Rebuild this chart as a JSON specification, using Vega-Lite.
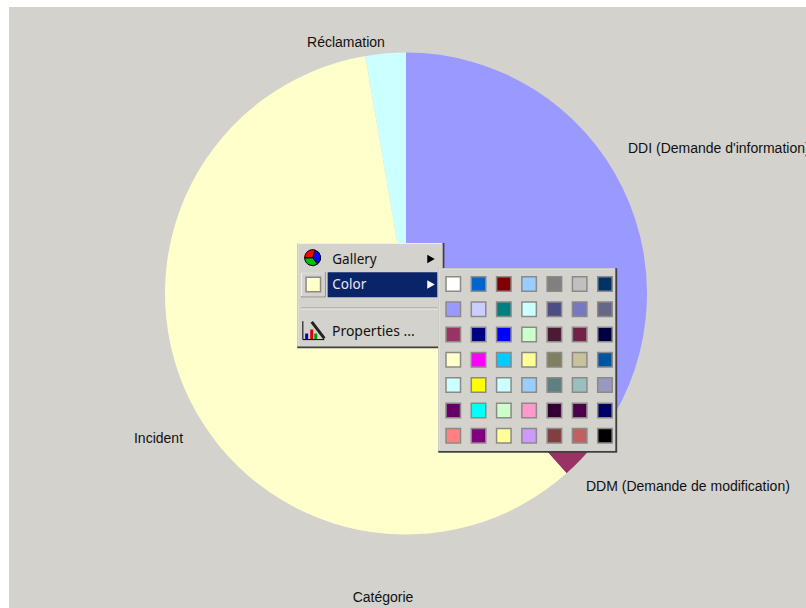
{"$schema":"https://vega.github.io/schema/vega-lite/v6.json","width":797,"height":601,"autosize":"none","padding":{"left":9,"top":7,"right":0,"bottom":0},"background":"#FFFFFF","view":{"fill":"#D3D2CD","stroke":null},
"config":{"axis":{"grid":false},"text":{"font":"Liberation Sans"}},
"datasets":{
"slices":[{"category":"DDI (Demande d'information)","share":35.6,"rank":1},{"category":"DDM (Demande de modification)","share":2.8,"rank":2},{"category":"Incident","share":58.9,"rank":3},{"category":"Réclamation","share":2.7,"rank":4}],
"parts":[{"part":"menu"}],
"gallery":[{"wedge":"blue","share":35,"rank":1},{"wedge":"green","share":35,"rank":2},{"wedge":"red","share":30,"rank":3}],
"swatches":[
{"col":1,"row":1,"swatch":1},{"col":2,"row":1,"swatch":2},{"col":3,"row":1,"swatch":3},{"col":4,"row":1,"swatch":4},{"col":5,"row":1,"swatch":5},{"col":6,"row":1,"swatch":6},{"col":7,"row":1,"swatch":7},
{"col":1,"row":2,"swatch":8},{"col":2,"row":2,"swatch":9},{"col":3,"row":2,"swatch":10},{"col":4,"row":2,"swatch":11},{"col":5,"row":2,"swatch":12},{"col":6,"row":2,"swatch":13},{"col":7,"row":2,"swatch":14},
{"col":1,"row":3,"swatch":15},{"col":2,"row":3,"swatch":16},{"col":3,"row":3,"swatch":17},{"col":4,"row":3,"swatch":18},{"col":5,"row":3,"swatch":19},{"col":6,"row":3,"swatch":20},{"col":7,"row":3,"swatch":21},
{"col":1,"row":4,"swatch":22},{"col":2,"row":4,"swatch":23},{"col":3,"row":4,"swatch":24},{"col":4,"row":4,"swatch":25},{"col":5,"row":4,"swatch":26},{"col":6,"row":4,"swatch":27},{"col":7,"row":4,"swatch":28},
{"col":1,"row":5,"swatch":29},{"col":2,"row":5,"swatch":30},{"col":3,"row":5,"swatch":31},{"col":4,"row":5,"swatch":32},{"col":5,"row":5,"swatch":33},{"col":6,"row":5,"swatch":34},{"col":7,"row":5,"swatch":35},
{"col":1,"row":6,"swatch":36},{"col":2,"row":6,"swatch":37},{"col":3,"row":6,"swatch":38},{"col":4,"row":6,"swatch":39},{"col":5,"row":6,"swatch":40},{"col":6,"row":6,"swatch":41},{"col":7,"row":6,"swatch":42},
{"col":1,"row":7,"swatch":43},{"col":2,"row":7,"swatch":44},{"col":3,"row":7,"swatch":45},{"col":4,"row":7,"swatch":46},{"col":5,"row":7,"swatch":47},{"col":6,"row":7,"swatch":48},{"col":7,"row":7,"swatch":49}]
},
"resolve":{"scale":{"color":"independent","theta":"independent"}},
"layer":[
{"data":{"name":"slices"},"mark":{"type":"arc","radius":241},"encoding":{
"x":{"datum":-0.87,"type":"quantitative","scale":{"domain":[-16.574,14.953],"range":[0,797],"nice":false,"zero":false},"axis":null},
"y":{"datum":1.377,"type":"quantitative","scale":{"domain":[-9.957,13.817],"range":[0,601],"nice":false,"zero":false},"axis":null},
"theta":{"field":"share","type":"quantitative","stack":true,"scale":{"range":[0,6.28319]}},
"order":{"field":"rank","type":"ordinal"},
"color":{"field":"category","type":"nominal","legend":null,"scale":{"domain":["DDI (Demande d'information)","DDM (Demande de modification)","Incident","Réclamation"],"range":["#9999FF","#993366","#FFFFCC","#CCFFFF"]}}}},
{"data":{"name":"slices"},"transform":[{"filter":"datum.rank==1"}],"mark":{"type":"text","align":"left","baseline":"middle","fontSize":14,"color":"#111111"},"encoding":{"x":{"datum":7.911,"axis":null},"y":{"datum":-4.339,"axis":null},"text":{"field":"category"}}},
{"data":{"name":"slices"},"transform":[{"filter":"datum.rank==2"}],"mark":{"type":"text","align":"left","baseline":"middle","fontSize":14,"color":"#111111"},"encoding":{"x":{"datum":6.25,"axis":null},"y":{"datum":9.031,"axis":null},"text":{"field":"category"}}},
{"data":{"name":"slices"},"transform":[{"filter":"datum.rank==3"}],"mark":{"type":"text","align":"left","baseline":"middle","fontSize":14,"color":"#111111"},"encoding":{"x":{"datum":-11.63,"axis":null},"y":{"datum":7.132,"axis":null},"text":{"field":"category"}}},
{"data":{"name":"slices"},"transform":[{"filter":"datum.rank==4"}],"mark":{"type":"text","align":"center","baseline":"middle","fontSize":14,"color":"#111111"},"encoding":{"x":{"datum":-3.244,"axis":null},"y":{"datum":-8.533,"axis":null},"text":{"field":"category"}}},
{"data":{"name":"parts"},"mark":{"type":"text","align":"center","baseline":"middle","fontSize":14,"color":"#111111"},"encoding":{"x":{"datum":-1.78,"axis":null},"y":{"datum":13.42,"axis":null},"text":{"value":"Catégorie"}}},

{"data":{"name":"parts"},"mark":{"type":"rect","color":"#404040"},"encoding":{"x":{"datum":-5.17,"axis":null},"x2":{"datum":0.65},"y":{"datum":-0.621,"axis":null},"y2":{"datum":3.54}}},
{"data":{"name":"parts"},"mark":{"type":"rect","color":"#F2F0EC"},"encoding":{"x":{"datum":-5.17,"axis":null},"x2":{"datum":0.57},"y":{"datum":-0.621,"axis":null},"y2":{"datum":3.46}}},
{"data":{"name":"parts"},"mark":{"type":"rect","color":"#D3D2CD"},"encoding":{"x":{"datum":-5.13,"axis":null},"x2":{"datum":0.57},"y":{"datum":-0.581,"axis":null},"y2":{"datum":3.46}}},
{"data":{"name":"parts"},"mark":{"type":"rect","color":"#0A246A"},"encoding":{"x":{"datum":-3.968,"axis":null},"x2":{"datum":0.368},"y":{"datum":0.538,"axis":null},"y2":{"datum":1.527}}},
{"data":{"name":"parts"},"mark":{"type":"rect","color":"#808080"},"encoding":{"x":{"datum":-5.024,"axis":null},"x2":{"datum":-4.047},"y":{"datum":0.538,"axis":null},"y2":{"datum":1.527}}},
{"data":{"name":"parts"},"mark":{"type":"rect","color":"#F2F0EC"},"encoding":{"x":{"datum":-5.024,"axis":null},"x2":{"datum":-4.087},"y":{"datum":0.538,"axis":null},"y2":{"datum":1.487}}},
{"data":{"name":"parts"},"mark":{"type":"rect","color":"#D3D2CD"},"encoding":{"x":{"datum":-4.984,"axis":null},"x2":{"datum":-4.087},"y":{"datum":0.578,"axis":null},"y2":{"datum":1.487}}},
{"data":{"name":"parts"},"mark":{"type":"point","shape":"square","filled":true,"size":210,"opacity":1,"color":"#FFFFCC","stroke":"#8C8A86","strokeWidth":1.5},"encoding":{"x":{"datum":-4.537,"axis":null},"y":{"datum":1.021,"axis":null}}},
{"data":{"name":"parts"},"mark":{"type":"rule","color":"#9A9892","strokeWidth":1},"encoding":{"x":{"datum":-5.024,"axis":null},"x2":{"datum":0.376},"y":{"datum":1.95,"axis":null}}},
{"data":{"name":"parts"},"mark":{"type":"rule","color":"#F2F0EC","strokeWidth":1},"encoding":{"x":{"datum":-5.024,"axis":null},"x2":{"datum":0.376},"y":{"datum":1.99,"axis":null}}},

{"data":{"name":"gallery"},"mark":{"type":"arc","radius":8,"stroke":"#000000","strokeWidth":1},"encoding":{"x":{"datum":-4.561,"axis":null},"y":{"datum":-0.04,"axis":null},"theta":{"field":"share","type":"quantitative","stack":true,"scale":{"range":[0.3,6.58319]}},"order":{"field":"rank","type":"ordinal"},"color":{"field":"wedge","type":"nominal","legend":null,"scale":{"domain":["blue","green","red"],"range":["#0000FF","#00C000","#FF0000"]}}}},

{"data":{"name":"parts"},"mark":{"type":"rule","color":"#000000","strokeWidth":1},"encoding":{"x":{"datum":-4.95,"axis":null},"y":{"datum":2.47,"axis":null},"y2":{"datum":3.2}}},
{"data":{"name":"parts"},"mark":{"type":"rule","color":"#000000","strokeWidth":1},"encoding":{"x":{"datum":-4.95,"axis":null},"x2":{"datum":-4.1},"y":{"datum":3.2,"axis":null}}},
{"data":{"name":"parts"},"mark":{"type":"rule","color":"#0000CC","strokeWidth":3},"encoding":{"x":{"datum":-4.8,"axis":null},"y":{"datum":2.96,"axis":null},"y2":{"datum":3.18}}},
{"data":{"name":"parts"},"mark":{"type":"rule","color":"#DD0000","strokeWidth":3},"encoding":{"x":{"datum":-4.6,"axis":null},"y":{"datum":2.8,"axis":null},"y2":{"datum":3.18}}},
{"data":{"name":"parts"},"mark":{"type":"rule","color":"#009900","strokeWidth":3},"encoding":{"x":{"datum":-4.44,"axis":null},"y":{"datum":2.96,"axis":null},"y2":{"datum":3.18}}},
{"data":{"name":"parts"},"mark":{"type":"rule","color":"#222222","strokeWidth":3},"encoding":{"x":{"datum":-4.6,"axis":null},"x2":{"datum":-4.1},"y":{"datum":2.5,"axis":null},"y2":{"datum":3.15}}},

{"data":{"name":"parts"},"mark":{"type":"text","align":"left","baseline":"middle","fontSize":13.5,"font":"Noto Sans","color":"#111111"},"encoding":{"x":{"datum":-3.786,"axis":null},"y":{"datum":0.06,"axis":null},"text":{"value":"Gallery"}}},
{"data":{"name":"parts"},"mark":{"type":"text","align":"left","baseline":"middle","fontSize":13.5,"font":"Noto Sans","color":"#E8E8F0"},"encoding":{"x":{"datum":-3.786,"axis":null},"y":{"datum":1.04,"axis":null},"text":{"value":"Color"}}},
{"data":{"name":"parts"},"mark":{"type":"text","align":"left","baseline":"middle","fontSize":14,"font":"Noto Sans","color":"#111111"},"encoding":{"x":{"datum":-3.8,"axis":null},"y":{"datum":2.9,"axis":null},"text":{"value":"Properties ..."}}},
{"data":{"name":"parts"},"mark":{"type":"point","shape":"triangle-right","filled":true,"size":75,"opacity":1,"color":"#000000"},"encoding":{"x":{"datum":0.119,"axis":null},"y":{"datum":0.012,"axis":null}}},
{"data":{"name":"parts"},"mark":{"type":"point","shape":"triangle-right","filled":true,"size":75,"opacity":1,"color":"#FFFFFF"},"encoding":{"x":{"datum":0.119,"axis":null},"y":{"datum":1.021,"axis":null}}},

{"data":{"name":"parts"},"mark":{"type":"rect","color":"#404040"},"encoding":{"x":{"datum":0.407,"axis":null},"x2":{"datum":7.484},"y":{"datum":0.38,"axis":null},"y2":{"datum":7.678}}},
{"data":{"name":"parts"},"mark":{"type":"rect","color":"#F2F0EC"},"encoding":{"x":{"datum":0.407,"axis":null},"x2":{"datum":7.404},"y":{"datum":0.38,"axis":null},"y2":{"datum":7.598}}},
{"data":{"name":"parts"},"mark":{"type":"rect","color":"#D3D2CD"},"encoding":{"x":{"datum":0.447,"axis":null},"x2":{"datum":7.404},"y":{"datum":0.42,"axis":null},"y2":{"datum":7.598}}},

{"data":{"name":"swatches"},"mark":{"type":"point","shape":"square","filled":true,"size":210,"opacity":1,"stroke":"#8C8A86","strokeWidth":1.5},"encoding":{"x":{"field":"col","type":"quantitative","axis":null},"y":{"field":"row","type":"quantitative","axis":null},"color":{"field":"swatch","type":"ordinal","legend":null,"scale":{"domain":[1,2,3,4,5,6,7,8,9,10,11,12,13,14,15,16,17,18,19,20,21,22,23,24,25,26,27,28,29,30,31,32,33,34,35,36,37,38,39,40,41,42,43,44,45,46,47,48,49],"range":["#FFFFFF","#0066CC","#800000","#99CCFF","#808080","#C0C0C0","#003366","#9999FF","#CCCCFF","#008080","#CCFFFF","#4D4D85","#7777C2","#666688","#993366","#000080","#0000FF","#CCFFCC","#4C1A33","#732147","#000040","#FFFFCC","#FF00FF","#00CCFF","#FFFF99","#808060","#C7C29C","#0055A0","#CCFFFF","#FFFF00","#CCFFFF","#99CCFF","#5F8080","#99BFBF","#9999C0","#660066","#00FFFF","#CCFFCC","#FF99CC","#330033","#4C004C","#000066","#FF8080","#800080","#FFFF99","#CC99FF","#804040","#C06060","#000000"]}}}}
]}
